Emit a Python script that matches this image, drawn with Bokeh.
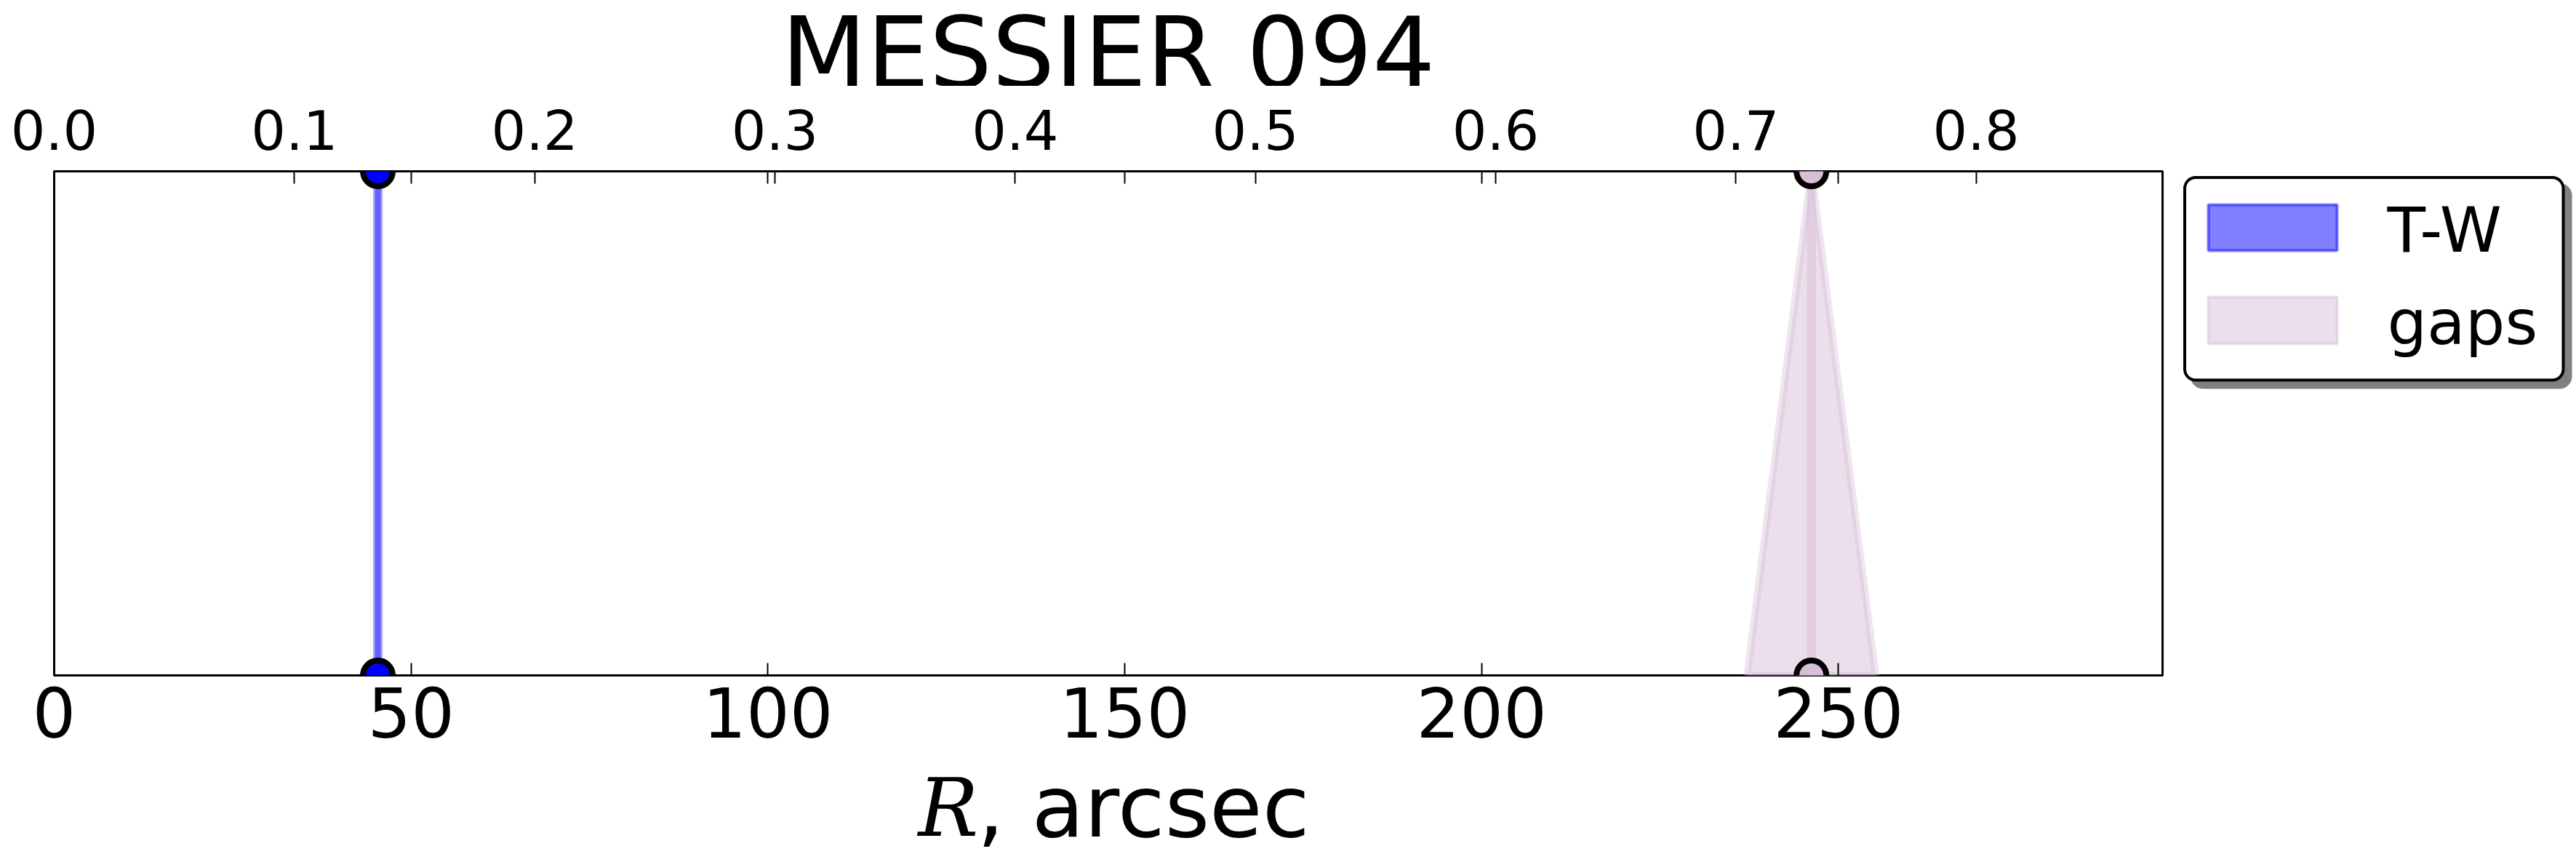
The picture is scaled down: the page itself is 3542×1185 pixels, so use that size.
from bokeh.plotting import figure
from bokeh.models import Range1d, LinearAxis, FixedTicker, NumeralTickFormatter
from bokeh.layouts import row, column
from bokeh.embed import file_html
from bokeh.resources import INLINE
from bokeh.core.properties import value

# ---------------- data ----------------
title_text = "MESSIER 094"
x_label_math = "R"
x_label_rest = ", arcsec"
x_min, x_max = 0.0, 295.4          # arcsec
r25_arcsec = 336.6                 # top axis = R / R25
bottom_ticks = [0, 50, 100, 150, 200, 250]
top_ticks = [0.0, 0.1, 0.2, 0.3, 0.4, 0.5, 0.6, 0.7, 0.8]

y_bottom, y_top = 0.0, 1.0

series_names = ["T-W", "gaps"]
series_colors = ["blue", "thistle"]
series_r = [45.35, 246.2]          # arcsec, centre of each feature
series_halfwidth = [0.0, 9.0]      # arcsec, half width at base

# ---------------- geometry (pixels) ----------------
W, H = 3542, 1185
FL, FR = 74, 2973                  # frame left / right
FT, FB = 235, 928                  # frame top / bottom
H1 = 118                           # title strip height
BT = FT - H1                       # main plot top border
BB = 123                           # main plot bottom border
H3 = H - FB - BB                   # x-label strip height
MW = 2990                          # main plot width
LW = W - MW                        # legend panel width
SHIFT = 0.33                       # svg alphabetic-baseline correction (em)


def base(y, px):
    return y - SHIFT * px


def blank(fig):
    fig.grid.visible = False
    fig.outline_line_color = None
    fig.background_fill_color = "white"
    fig.border_fill_color = "white"


# ---------------- title strip ----------------
tf = figure(frame_width=FR - FL, frame_height=H1, min_border_left=FL,
            min_border_right=MW - FR, min_border_top=0, min_border_bottom=0,
            x_range=Range1d(FL, FR), y_range=Range1d(H1, 0),
            x_axis_location=None, y_axis_location=None,
            output_backend="svg", toolbar_location=None)
blank(tf)
tf.text(x=[(FL + FR) / 2], y=[base(117, 136)], text=[title_text], text_align="center",
        text_baseline="alphabetic", text_font=value("DejaVu Sans"),
        text_font_size="136px", text_color="black")

# ---------------- main figure ----------------
p = figure(frame_width=FR - FL, frame_height=FB - FT,
           min_border_left=FL, min_border_right=MW - FR,
           min_border_top=BT, min_border_bottom=BB,
           x_range=Range1d(x_min, x_max), y_range=Range1d(y_bottom, y_top),
           x_axis_location=None, y_axis_location=None,
           output_backend="svg", toolbar_location=None)
p.grid.visible = False
p.outline_line_color = "black"
p.outline_line_width = 3
p.background_fill_color = "white"
p.border_fill_color = "white"


def style_axis(ax, font_px, standoff):
    ax.axis_line_color = None
    ax.major_tick_in = 17
    ax.major_tick_out = 0
    ax.minor_tick_in = 0
    ax.minor_tick_out = 0
    ax.major_tick_line_width = 2
    ax.major_tick_line_color = "black"
    ax.major_label_text_font = "DejaVu Sans"
    ax.major_label_text_font_size = font_px
    ax.major_label_text_color = "black"
    ax.major_label_standoff = standoff


xb = LinearAxis(ticker=FixedTicker(ticks=bottom_ticks))
style_axis(xb, "94px", 16)
p.add_layout(xb, "below")

xm = LinearAxis(ticker=FixedTicker(ticks=bottom_ticks))
style_axis(xm, "0px", 0)
xm.major_label_text_alpha = 0
p.add_layout(xm, "above")

p.extra_x_ranges = {"top": Range1d(x_min / r25_arcsec, x_max / r25_arcsec)}
xt = LinearAxis(x_range_name="top", ticker=FixedTicker(ticks=top_ticks),
                formatter=NumeralTickFormatter(format="0.0"))
style_axis(xt, "75px", 30)
p.add_layout(xt, "above")

stroke_w = [13, 10]
stroke_a = [0.35, 0.4]
center_w = [8, 12]
center_a = [0.4, 0.55]
point_fill = ["blue", "thistle"]
for r, hw, c, sw, sa, cw, ca, pf in zip(series_r, series_halfwidth, series_colors,
                                         stroke_w, stroke_a, center_w, center_a, point_fill):
    p.patch(x=[r - hw, r, r + hw], y=[y_bottom, y_top, y_bottom],
            fill_color=c, fill_alpha=0.5, line_color=c, line_alpha=sa, line_width=sw)
    p.segment(x0=[r], y0=[y_bottom], x1=[r], y1=[y_top],
              line_color=c, line_alpha=ca, line_width=cw)
    p.scatter(x=[r, r], y=[y_bottom, y_top], size=41, marker="circle",
              fill_color=pf, line_color="black", line_width=8)

# ---------------- legend panel ----------------
lg = figure(frame_width=LW, frame_height=FB - FT, min_border_left=0, min_border_right=0,
            min_border_top=BT, min_border_bottom=BB,
            x_range=Range1d(MW, W), y_range=Range1d(FB, FT),
            x_axis_location=None, y_axis_location=None,
            output_backend="svg", toolbar_location=None)
blank(lg)

bx0, bx1, by0, by1 = 3003.5, 3524, 243.5, 522
lg.quad(left=[bx0 + 10], right=[bx1 + 10], top=[by0 + 10], bottom=[by1 + 10],
        fill_color="#808080", line_color="#808080", line_width=4, border_radius=15)
lg.quad(left=[bx0], right=[bx1], top=[by0], bottom=[by1],
        fill_color="white", line_color="black", line_width=4, border_radius=15)

patch_tops = [281, 408]
patch_bottoms = [344, 472]
text_base = [base(344, 86), base(471, 86)]
for c, t, b in zip(series_colors, patch_tops, patch_bottoms):
    lg.quad(left=[3036], right=[3213], top=[t], bottom=[b],
            fill_color=c, fill_alpha=0.5, line_color=c, line_alpha=0.5, line_width=4)
lg.text(x=[3282, 3282], y=text_base, text=series_names,
        text_font=value("DejaVu Sans"), text_font_size="86px",
        text_baseline="alphabetic", text_align="left", text_color="black")

# ---------------- x-label strip ----------------
xf = figure(frame_width=FR - FL, frame_height=H3, min_border_left=FL,
            min_border_right=MW - FR, min_border_top=0, min_border_bottom=0,
            x_range=Range1d(FL, FR), y_range=Range1d(H, H - H3),
            x_axis_location=None, y_axis_location=None,
            output_backend="svg", toolbar_location=None)
blank(xf)
xf.text(x=[1262], y=[base(1147, 110)], text=[x_label_math], text_align="left",
        text_baseline="alphabetic", text_font=value("DejaVu Serif"),
        text_font_style="italic", text_font_size="110px", text_color="black")
xf.text(x=[1343], y=[base(1147, 118)], text=[x_label_rest], text_align="left",
        text_baseline="alphabetic", text_font=value("DejaVu Sans"),
        text_font_size="118px", text_color="black")

layout = column(tf, row(p, lg), xf)
open("out.html", "w").write(file_html(layout, INLINE))
